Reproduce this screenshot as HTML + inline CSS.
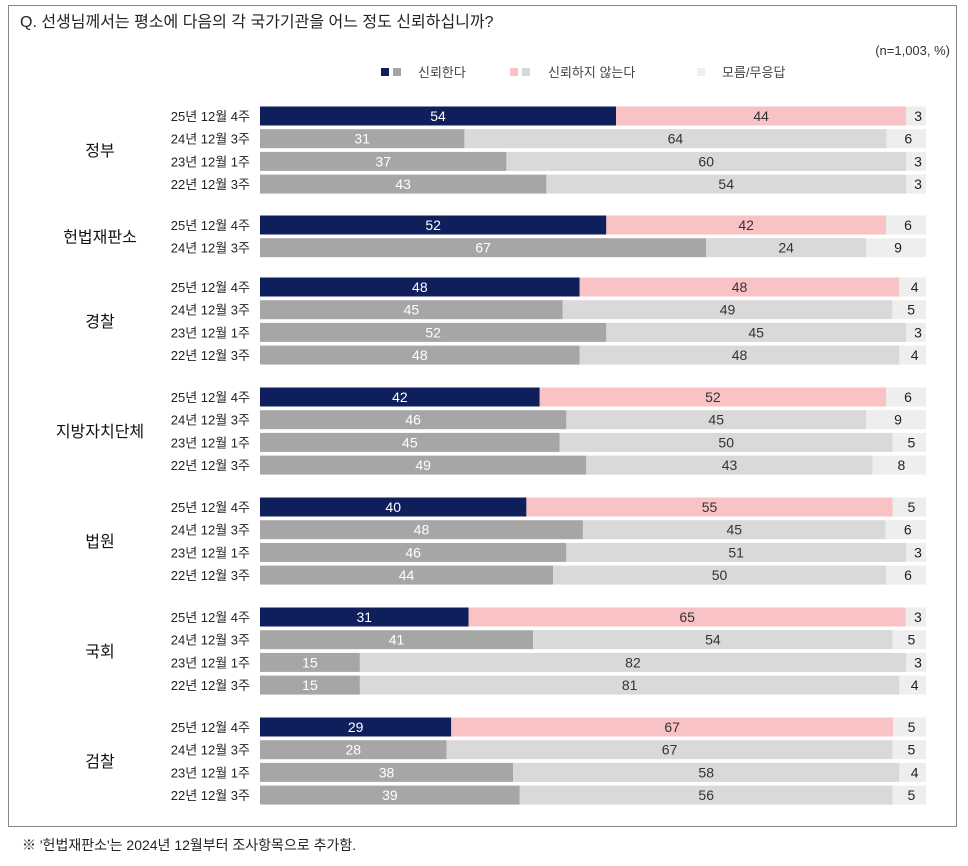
<!DOCTYPE html>
<html><head><meta charset="utf-8">
<style>
body{margin:0;background:#fff;width:968px;height:866px;overflow:hidden;font-family:"Liberation Sans","Noto Sans CJK KR",sans-serif;}
#frame{position:absolute;left:8px;top:5px;width:949px;height:822px;border:1px solid #888;box-sizing:border-box;}
</style></head><body>
<div id="frame"></div>
<svg id="chart" width="968" height="866" style="position:absolute;left:0;top:0">
<text x="20" y="27" font-size="16" fill="#222">Q. 선생님께서는 평소에 다음의 각 국가기관을 어느 정도 신뢰하십니까?</text>
<text x="950" y="55" font-size="13" fill="#333" text-anchor="end">(n=1,003, %)</text>
<g>
<rect x="381" y="68" width="8" height="8" fill="#0f1f5c"/><rect x="393" y="68" width="8" height="8" fill="#a6a6a6"/>
<text x="418" y="77" font-size="13" fill="#444">신뢰한다</text>
<rect x="510" y="68" width="8" height="8" fill="#f9c2c4"/><rect x="522" y="68" width="8" height="8" fill="#d9d9d9"/>
<text x="548" y="77" font-size="13" fill="#444">신뢰하지 않는다</text>
<rect x="697" y="68" width="8" height="8" fill="#eeeeee"/>
<text x="722" y="77" font-size="13" fill="#444">모름/무응답</text>
</g>
<g id="bars"></g>
<text x="22" y="850" font-size="14" fill="#222">※ '헌법재판소'는 2024년 12월부터 조사항목으로 추가함.</text>
</svg>
<script>
const groups = ["정부","헌법재판소","경찰","지방자치단체","법원","국회","검찰"];
const periods = [
 ["25년 12월 4주","24년 12월 3주","23년 12월 1주","22년 12월 3주"],
 ["25년 12월 4주","24년 12월 3주"],
 ["25년 12월 4주","24년 12월 3주","23년 12월 1주","22년 12월 3주"],
 ["25년 12월 4주","24년 12월 3주","23년 12월 1주","22년 12월 3주"],
 ["25년 12월 4주","24년 12월 3주","23년 12월 1주","22년 12월 3주"],
 ["25년 12월 4주","24년 12월 3주","23년 12월 1주","22년 12월 3주"],
 ["25년 12월 4주","24년 12월 3주","23년 12월 1주","22년 12월 3주"]
];
const trust = [[54,31,37,43],[52,67],[48,45,52,48],[42,46,45,49],[40,48,46,44],[31,41,15,15],[29,28,38,39]];
const distrust = [[44,64,60,54],[42,24],[48,49,45,48],[52,45,50,43],[55,45,51,50],[65,54,82,81],[67,67,58,56]];
const unknown = [[3,6,3,3],[6,9],[4,5,3,4],[6,9,5,8],[5,6,3,6],[3,5,3,4],[5,5,4,5]];
const groupTop = [116,225,287,397,507,617,727];

const NS="http://www.w3.org/2000/svg";
const g=document.getElementById('bars');
const X0=260,X1=926,ROW=22.7,H=19;
function mk(tag,attrs){const e=document.createElementNS(NS,tag);for(const k in attrs)e.setAttribute(k,attrs[k]);g.appendChild(e);return e;}
groups.forEach((name,gi)=>{
  const n=periods[gi].length;
  const cy0=groupTop[gi];
  const gl=mk('text',{x:100,y:cy0+(n-1)*ROW/2+6,'font-size':16,'text-anchor':'middle',fill:'#111'});
  gl.textContent=name;
  
  
  for(let r=0;r<n;r++){
    const cy=cy0+r*ROW, y=cy-H/2;
    const vals=[trust[gi][r],distrust[gi][r],unknown[gi][r]];
    const tot=vals[0]+vals[1]+vals[2];
    const sx=v=>(X1-X0)*v/tot;
    const latest=r===0;
    const cols=latest?['#0f1f5c','#f9c2c4','#eeeeee']:['#a6a6a6','#d9d9d9','#eeeeee'];
    const tcol=latest?['#fff','#333','#222']:['#fff','#333','#222'];
    const pl=mk('text',{x:250,y:cy+5,'font-size':13,'text-anchor':'end',fill:'#222'});
    pl.textContent=periods[gi][r];
    
    
    let x=X0;
    vals.forEach((v,k)=>{
      const w=sx(v);
      const rc=mk('rect',{x:x,y:y,width:w,height:H,fill:cols[k]});
      
      
      const t=mk('text',{x:k===2?x+w/2+2:x+w/2,y:cy+5,'font-size':14,'text-anchor':'middle',fill:tcol[k]});
      t.textContent=v;
      
      
      x+=w;
    });
  }
});
</script>
</body></html>
